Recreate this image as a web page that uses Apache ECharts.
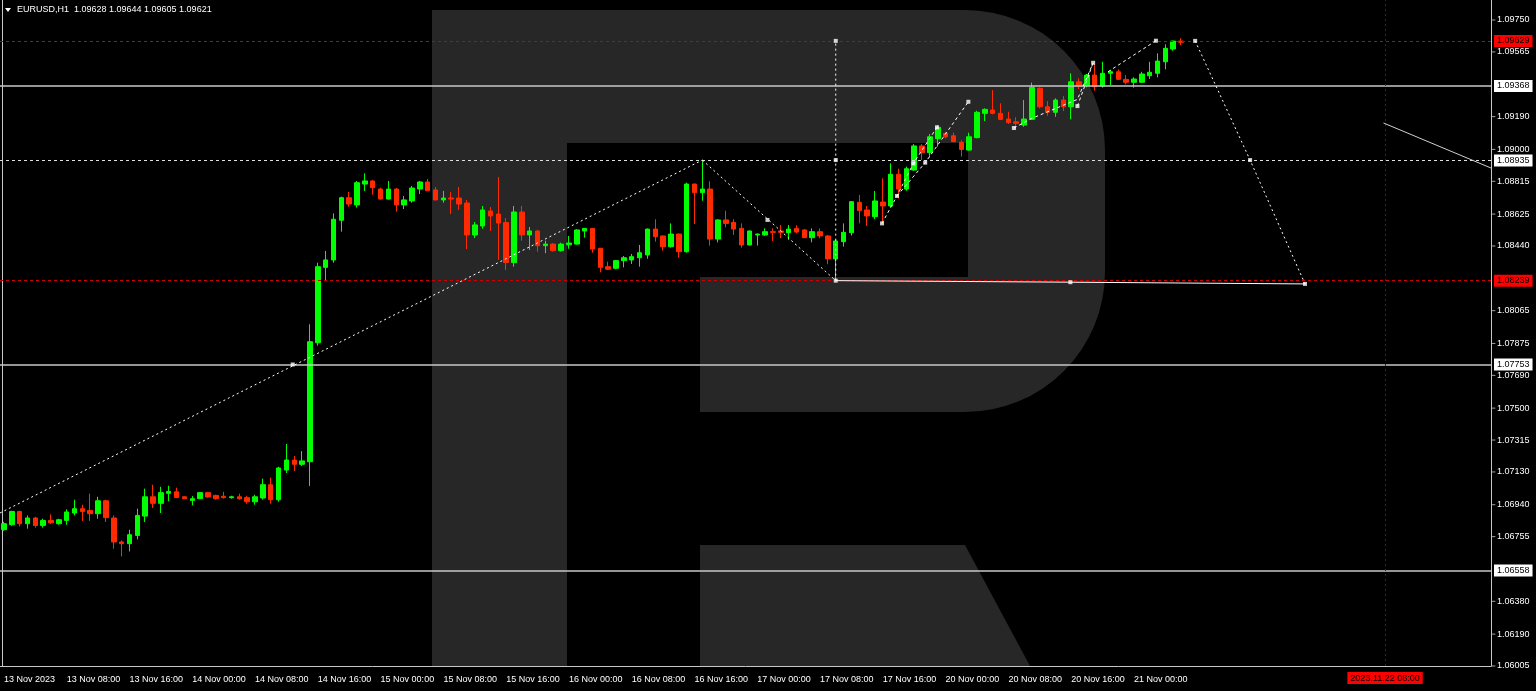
<!DOCTYPE html>
<html><head><meta charset="utf-8">
<script src="https://cdn.jsdelivr.net/npm/echarts@6/dist/echarts.min.js"></script>
<style>html,body{margin:0;background:#000}#c{width:1536px;height:691px}</style>
</head><body><div id="c"></div><script>
// ---- data ----
const xLabels = ['13 Nov 2023','13 Nov 08:00','13 Nov 16:00','14 Nov 00:00','14 Nov 08:00','14 Nov 16:00','15 Nov 00:00','15 Nov 08:00','15 Nov 16:00','16 Nov 00:00','16 Nov 08:00','16 Nov 16:00','17 Nov 00:00','17 Nov 08:00','17 Nov 16:00','20 Nov 00:00','20 Nov 08:00','20 Nov 16:00','21 Nov 00:00'];
const yTicks = [1.09750,1.09565,1.09190,1.09000,1.08815,1.08625,1.08440,1.08065,1.07875,1.07690,1.07500,1.07315,1.07130,1.06940,1.06755,1.06380,1.06190,1.06005];
const opens = [1.06795,1.06824,1.06901,1.06830,1.06863,1.06820,1.06849,1.06830,1.06849,1.06892,1.06917,1.06907,1.06888,1.06963,1.06863,1.06724,1.06714,1.06762,1.06874,1.06986,1.06948,1.07006,1.07015,1.06986,1.06965,1.06975,1.07010,1.06994,1.06989,1.06981,1.06986,1.06981,1.06957,1.06979,1.07056,1.06969,1.07141,1.07199,1.07174,1.07189,1.07879,1.08316,1.08359,1.08589,1.08720,1.08678,1.08799,1.08817,1.08770,1.08712,1.08770,1.08678,1.08701,1.08770,1.08811,1.08765,1.08707,1.08718,1.08718,1.08689,1.08504,1.08556,1.08643,1.08625,1.08576,1.08344,1.08637,1.08504,1.08527,1.08442,1.08451,1.08413,1.08447,1.08451,1.08527,1.08542,1.08427,1.08320,1.08311,1.08355,1.08359,1.08372,1.08388,1.08538,1.08498,1.08436,1.08509,1.08407,1.08799,1.08749,1.08770,1.08480,1.08591,1.08577,1.08542,1.08446,1.08504,1.08504,1.08523,1.08527,1.08517,1.08542,1.08533,1.08488,1.08523,1.08498,1.08365,1.08465,1.08517,1.08693,1.08649,1.08610,1.08695,1.08672,1.08856,1.08770,1.08880,1.09020,1.08981,1.09062,1.09093,1.09079,1.09041,1.08996,1.09068,1.09209,1.09228,1.09209,1.09176,1.09160,1.09141,1.09174,1.09354,1.09247,1.09215,1.09286,1.09247,1.09392,1.09369,1.09431,1.09367,1.09441,1.09450,1.09406,1.09389,1.09389,1.09427,1.09441,1.09508,1.09582,1.09628];
const highs = [1.06841,1.06905,1.06905,1.06878,1.06870,1.06859,1.06884,1.06859,1.06913,1.06969,1.06940,1.07004,1.06986,1.06969,1.06878,1.06733,1.06795,1.06917,1.07033,1.07056,1.07044,1.07050,1.07039,1.06989,1.06990,1.07010,1.07015,1.06998,1.07015,1.06992,1.07004,1.06992,1.06998,1.07091,1.07097,1.07160,1.07292,1.07223,1.07251,1.07986,1.08343,1.08411,1.08629,1.08726,1.08753,1.08817,1.08861,1.08823,1.08778,1.08817,1.08776,1.08730,1.08788,1.08817,1.08828,1.08782,1.08759,1.08753,1.08782,1.08707,1.08579,1.08672,1.08666,1.08840,1.08602,1.08672,1.08672,1.08550,1.08533,1.08471,1.08456,1.08459,1.08498,1.08537,1.08544,1.08544,1.08428,1.08349,1.08359,1.08382,1.08394,1.08446,1.08541,1.08595,1.08501,1.08571,1.08512,1.08807,1.08802,1.08938,1.08815,1.08595,1.08645,1.08595,1.08571,1.08530,1.08512,1.08542,1.08542,1.08562,1.08562,1.08560,1.08538,1.08542,1.08542,1.08504,1.08475,1.08571,1.08701,1.08736,1.08672,1.08759,1.08832,1.08919,1.08888,1.08900,1.09031,1.09031,1.09089,1.09141,1.09102,1.09097,1.09054,1.09097,1.09224,1.09238,1.09344,1.09267,1.09218,1.09186,1.09286,1.09387,1.09359,1.09280,1.09296,1.09309,1.09441,1.09412,1.09437,1.09495,1.09508,1.09460,1.09464,1.09431,1.09418,1.09450,1.09508,1.09557,1.09609,1.09630,1.09644];
const lows = [1.06789,1.06818,1.06814,1.06801,1.06807,1.06807,1.06828,1.06824,1.06824,1.06878,1.06846,1.06846,1.06859,1.06840,1.06685,1.06640,1.06669,1.06739,1.06840,1.06921,1.06892,1.06959,1.06978,1.06972,1.06936,1.06975,1.06981,1.06969,1.06975,1.06975,1.06969,1.06946,1.06940,1.06969,1.06946,1.06957,1.07124,1.07136,1.07165,1.07049,1.07862,1.08237,1.08343,1.08523,1.08668,1.08662,1.08759,1.08737,1.08709,1.08709,1.08639,1.08654,1.08691,1.08741,1.08759,1.08704,1.08691,1.08625,1.08649,1.08422,1.08486,1.08540,1.08527,1.08359,1.08301,1.08320,1.08471,1.08417,1.08407,1.08398,1.08407,1.08407,1.08424,1.08448,1.08488,1.08401,1.08287,1.08301,1.08305,1.08316,1.08336,1.08320,1.08366,1.08465,1.08413,1.08430,1.08372,1.08401,1.08567,1.08702,1.08442,1.08461,1.08548,1.08504,1.08430,1.08443,1.08442,1.08498,1.08469,1.08485,1.08475,1.08514,1.08486,1.08461,1.08485,1.08334,1.08239,1.08436,1.08500,1.08571,1.08556,1.08596,1.08571,1.08664,1.08716,1.08760,1.08876,1.08938,1.08954,1.09016,1.09064,1.09041,1.08958,1.08993,1.09064,1.09164,1.09203,1.09170,1.09147,1.09112,1.09131,1.09170,1.09238,1.09195,1.09189,1.09222,1.09174,1.09350,1.09360,1.09340,1.09358,1.09373,1.09402,1.09377,1.09358,1.09385,1.09408,1.09418,1.09464,1.09572,1.09605];
const closes = [1.06830,1.06901,1.06830,1.06863,1.06820,1.06849,1.06836,1.06853,1.06898,1.06917,1.06901,1.06888,1.06963,1.06865,1.06724,1.06714,1.06766,1.06878,1.06986,1.06948,1.07010,1.07017,1.06982,1.06975,1.06975,1.07010,1.06985,1.06975,1.06981,1.06986,1.06975,1.06957,1.06986,1.07056,1.06969,1.07153,1.07199,1.07174,1.07194,1.07885,1.08320,1.08359,1.08595,1.08720,1.08683,1.08807,1.08817,1.08778,1.08712,1.08770,1.08678,1.08707,1.08776,1.08811,1.08760,1.08707,1.08718,1.08712,1.08683,1.08504,1.08562,1.08649,1.08614,1.08573,1.08344,1.08637,1.08504,1.08527,1.08442,1.08451,1.08413,1.08451,1.08457,1.08533,1.08542,1.08422,1.08316,1.08305,1.08355,1.08372,1.08378,1.08401,1.08538,1.08494,1.08436,1.08509,1.08407,1.08799,1.08749,1.08770,1.08480,1.08591,1.08571,1.08538,1.08446,1.08527,1.08509,1.08523,1.08519,1.08519,1.08538,1.08521,1.08488,1.08523,1.08498,1.08365,1.08469,1.08519,1.08697,1.08645,1.08614,1.08701,1.08672,1.08856,1.08770,1.08888,1.09020,1.08981,1.09073,1.09128,1.09073,1.09045,1.09000,1.09073,1.09215,1.09232,1.09209,1.09174,1.09155,1.09151,1.09176,1.09359,1.09247,1.09215,1.09286,1.09247,1.09392,1.09369,1.09431,1.09363,1.09441,1.09450,1.09406,1.09389,1.09408,1.09437,1.09447,1.09512,1.09586,1.09628,1.09621];
// levels
const solidLevels = [1.09368, 1.07753, 1.06558];
const dottedLevel = 1.08935;
const priceLevels = [1.09629, 1.08239];
const futureBar = 176, futureLabel = '2023.11.22 08:00';
// analysis drawings: [bar index, price]
const riseLine = [[-0.5,1.06892],[89,1.08938]];
const pullLine = [[89,1.08938],[106,1.08239]];
const vertLine = [[106,1.08239],[106,1.09629]];
const baseLine = [[106,1.08239],[135.9,1.08230],[165.8,1.08220]];
const dropLine = [[151.8,1.09629],[158.8,1.08938],[165.8,1.08220]];
const rightTrend = [[175.8,1.09153],[189.5,1.08892]];
const waves = [
  [[111.9,1.08571],[113.8,1.08730],[115.9,1.08919],[118.9,1.09128]],
  [[113.8,1.08730],[117.4,1.08923],[122.9,1.09276]],
  [[128.7,1.09124],[131.0,1.09180],[136.8,1.09290],[138.8,1.09502]],
  [[136.8,1.09251],[138.8,1.09502]],
  [[140.7,1.09450],[146.8,1.09630]]
];
const markerPts = [[36.8,1.07753],[97.3,1.08591],[106,1.08938],[106,1.09629],[106,1.08239],[135.9,1.08230],[165.8,1.08220],[158.8,1.08938],[151.8,1.09629],[111.9,1.08571],[113.8,1.08730],[115.9,1.08919],[117.4,1.08923],[118.9,1.09128],[122.9,1.09276],[128.7,1.09124],[136.8,1.09251],[138.8,1.09502],[146.8,1.09630]];

// ---- chart ----
const N = 190;
const FONT = 'Liberation Sans';
const cats = Array.from({length: N}, (_, i) => String(i));
const candles = opens.map((o, i) => [o, closes[i], lows[i], highs[i]]);
const showTick = i => i % 8 === 0 && (i / 8) < xLabels.length;
const logo = '#272727';
const boxLabel = (txt, bg, fg) => ({show: true, position: 'end', formatter: txt, backgroundColor: bg, color: fg,
  fontSize: 9, fontFamily: FONT, padding: [2, 3, 1, 3], distance: 3});

const lineSeries = (data, opt) => Object.assign({type: 'line', xAxisIndex: 1, data, showSymbol: false, silent: true,
  animation: false, lineStyle: {color: '#fff', width: 1, type: [2, 3]}, z: 5}, opt || {});

const series = [
  {type: 'candlestick', data: candles, barWidth: 5, z: 3,
   itemStyle: {color: '#00ff00', color0: '#ff2a00', borderColor: '#00ff00', borderColor0: '#ff2a00', borderWidth: 1},
   markLine: {silent: true, symbol: ['none', 'none'], animation: false, precision: 5,
     data: [
       ...solidLevels.map(v => ({yAxis: v, lineStyle: {color: '#c8c8c8', type: 'solid', width: 1.5}, label: boxLabel(v.toFixed(5), '#fff', '#000')})),
       {yAxis: dottedLevel, lineStyle: {color: '#e0e0e0', type: [3, 3], width: 1}, label: boxLabel(dottedLevel.toFixed(5), '#fff', '#000')},
       ...priceLevels.map(v => ({yAxis: v, lineStyle: {color: '#d00000', type: [3, 3], width: 1}, label: boxLabel(v.toFixed(5), '#ff0000', '#000')})),
       {xAxis: futureBar, lineStyle: {color: '#900000', type: [2, 3], width: 1},
        label: {show: true, position: 'start', formatter: futureLabel, backgroundColor: '#ff0000', color: '#000', fontSize: 9, fontFamily: FONT, padding: [2, 3, 1, 3], distance: 6}}
     ]}
  },
  lineSeries(riseLine),
  lineSeries(pullLine),
  lineSeries(vertLine),
  lineSeries(baseLine, {lineStyle: {color: '#fff', width: 1, type: 'solid'}}),
  lineSeries(dropLine),
  lineSeries(rightTrend, {lineStyle: {color: '#d0d0d0', width: 1, type: 'solid'}}),
  ...waves.map(w => lineSeries(w, {lineStyle: {color: '#fff', width: 1, type: [3, 3]}})),
  {type: 'scatter', xAxisIndex: 1, data: markerPts, symbol: 'rect', symbolSize: 4, silent: true, animation: false,
   itemStyle: {color: '#fff'}, z: 6},
  // y-axis tick marks, drawn just outside the plot's right edge
  {type: 'scatter', xAxisIndex: 1, data: yTicks.map(v => [N - 0.5 + 0.3, v]), symbol: 'rect', symbolSize: [4, 1],
   clip: false, silent: true, animation: false, itemStyle: {color: '#c8c8c8'}, z: 6}
];

const chart = echarts.init(document.getElementById('c'));
chart.setOption({
  backgroundColor: '#000',
  animation: false,
  grid: {left: 0, right: 45, top: 0, bottom: 25},
  xAxis: [
    {type: 'category', data: cats, boundaryGap: true,
     axisLine: {onZero: false, lineStyle: {color: '#c8c8c8', width: 1}},
     axisTick: {alignWithLabel: true, interval: i => showTick(i), length: 4, lineStyle: {color: '#c8c8c8'}},
     axisLabel: {interval: i => showTick(i), formatter: (v, i) => xLabels[i / 8] || '', align: 'left',
       color: '#fff', fontSize: 9, fontFamily: FONT, margin: 9},
     splitLine: {show: false}},
    {type: 'value', min: -0.5, max: N - 0.5, show: false, axisLine: {onZero: false}}
  ],
  yAxis: {type: 'value', position: 'right', min: 1.06005, max: 1.09866,
    axisLine: {show: true, onZero: false, lineStyle: {color: '#c8c8c8'}},
    axisTick: {show: false},
    axisLabel: {customValues: yTicks, formatter: v => v.toFixed(5), color: '#fff', fontSize: 9, fontFamily: FONT, margin: 6},
    splitLine: {show: false}},
  graphic: [
    {type: 'group', silent: true, z: -10, children: [
      {type: 'rect', z: -10, shape: {x: 567, y: 10, width: 538, height: 402, r: [0, 140, 140, 0]}, style: {fill: logo}},
      {type: 'rect', z: -10, shape: {x: 432, y: 10, width: 135, height: 656}, style: {fill: logo}},
      {type: 'rect', z: -10, shape: {x: 567, y: 143, width: 401, height: 134}, style: {fill: '#000'}},
      {type: 'rect', z: -10, shape: {x: 567, y: 277, width: 133, height: 389}, style: {fill: '#000'}},
      {type: 'polygon', z: -10, shape: {points: [[700, 545], [965, 545], [1030, 666], [700, 666]]}, style: {fill: logo}}
    ]},
    {type: 'line', silent: true, shape: {x1: 2.5, y1: 0, x2: 2.5, y2: 666}, style: {stroke: '#c8c8c8', lineWidth: 1}},
    {type: 'polygon', silent: true, shape: {points: [[5, 8], [11, 8], [8, 12]]}, style: {fill: '#fff'}},
    {type: 'text', silent: true, left: 17, top: 5, style: {text: 'EURUSD,H1  1.09628 1.09644 1.09605 1.09621', fill: '#fff', font: '9px "Liberation Sans"'}}
  ],
  series
});
</script></body></html>
